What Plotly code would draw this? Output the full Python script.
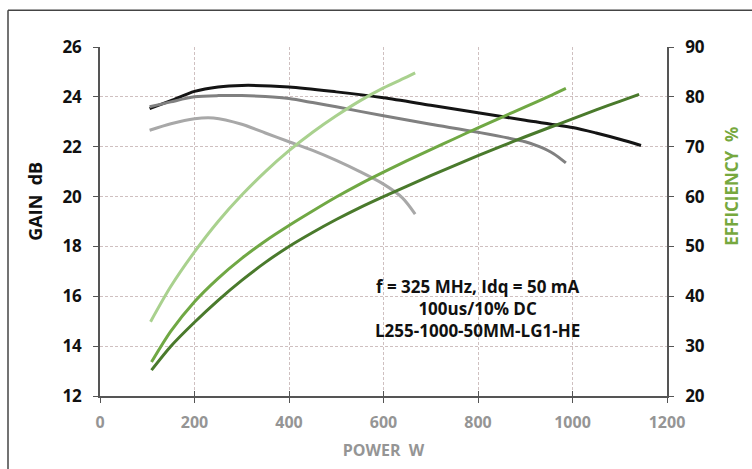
import plotly.graph_objects as go

# Output power (W) and gain (dB) for the three gain curves
gain_hi_w = [105, 150, 200, 250, 300, 400, 500, 600, 700, 800, 900, 1000, 1050, 1100, 1145]
gain_hi_db = [23.53, 23.85, 24.22, 24.4, 24.46, 24.4, 24.2, 23.96, 23.66, 23.36, 23.06,
              22.77, 22.55, 22.3, 22.05]

gain_mid_w = [105, 150, 200, 250, 300, 350, 400, 450, 500, 600, 700, 800, 900, 930, 960, 986]
gain_mid_db = [23.6, 23.8, 24.0, 24.05, 24.05, 24.01, 23.93, 23.77, 23.6, 23.24, 22.9,
               22.58, 22.2, 22.0, 21.72, 21.35]

gain_lo_w = [105, 150, 200, 240, 300, 350, 400, 450, 500, 550, 600, 640, 667]
gain_lo_db = [22.66, 22.92, 23.12, 23.15, 22.9, 22.55, 22.2, 21.85, 21.45, 21.0, 20.5,
              19.95, 19.3]

# Output power (W) and drain efficiency (%) for the three efficiency curves
eff_hi_w = [107, 150, 200, 250, 300, 350, 400, 450, 500, 550, 600, 650, 667]
eff_hi_pct = [34.9, 42.0, 48.9, 55.0, 60.3, 65.0, 69.2, 72.9, 76.2, 79.2, 81.8, 84.0, 84.8]

eff_mid_w = [109, 150, 200, 250, 300, 350, 400, 450, 500, 550, 600, 650, 700, 750, 800,
             850, 900, 950, 986]
eff_mid_pct = [26.8, 33.0, 38.9, 43.6, 47.6, 51.1, 54.2, 57.1, 59.9, 62.5, 64.9, 67.2,
               69.4, 71.6, 73.8, 75.9, 78.0, 80.1, 81.7]

eff_lo_w = [109, 150, 200, 250, 300, 350, 400, 450, 500, 550, 600, 650, 700, 750, 800,
            850, 900, 950, 1000, 1050, 1100, 1141]
eff_lo_pct = [25.2, 30.0, 34.8, 39.2, 43.2, 46.8, 50.0, 52.8, 55.4, 57.8, 60.0, 62.1,
              64.2, 66.2, 68.2, 70.1, 72.0, 73.8, 75.6, 77.4, 79.1, 80.5]

x_ticks = [0, 200, 400, 600, 800, 1000, 1200]
gain_ticks = [12, 14, 16, 18, 20, 22, 24, 26]
eff_ticks = [20, 30, 40, 50, 60, 70, 80, 90]

note_lines = ["f = 325 MHz, Idq = 50 mA", "100us/10% DC", "L255-1000-50MM-LG1-HE"]

FONT = "Open Sans"
W, H = 752, 469
L, R, T, B = 100, 85, 47, 70
PW, PH = W - L - R, H - T - B


def py_to_paper(py):
    return (H - B - py) / PH


def px_to_paper(px):
    return (px - L) / PW


fig = go.Figure()

gain_series = [
    (gain_hi_w, gain_hi_db, "#141414"),
    (gain_mid_w, gain_mid_db, "#808080"),
    (gain_lo_w, gain_lo_db, "#a8a8a8"),
]
for xs, ys, col in gain_series:
    fig.add_trace(go.Scatter(x=xs, y=ys, mode="lines", yaxis="y",
                             line=dict(color=col, width=3, shape="spline", smoothing=0.8),
                             showlegend=False, hoverinfo="skip"))

eff_series = [
    (eff_hi_w, eff_hi_pct, "#a9d18e"),
    (eff_mid_w, eff_mid_pct, "#70a844"),
    (eff_lo_w, eff_lo_pct, "#4a7a2c"),
]
for xs, ys, col in eff_series:
    fig.add_trace(go.Scatter(x=xs, y=ys, mode="lines", yaxis="y2",
                             line=dict(color=col, width=3, shape="spline", smoothing=0.8),
                             showlegend=False, hoverinfo="skip"))

# invisible trace so the overlay x-axis (inward ticks) gets drawn
fig.add_trace(go.Scatter(x=[0, 1200], y=[12, 12], xaxis="x2", yaxis="y",
                         mode="lines", line=dict(width=0), showlegend=False,
                         hoverinfo="skip"))

grid = dict(showgrid=True, gridcolor="#cfc0c0", gridwidth=1, griddash="3px,2px")
axis_line = dict(showline=True, linecolor="#555555", linewidth=1.5)

fig.update_layout(
    width=W, height=H,
    margin=dict(l=L, r=R, t=T, b=B),
    paper_bgcolor="white", plot_bgcolor="white",
    font=dict(family=FONT),
    xaxis=dict(range=[0, 1200], tickvals=x_ticks, ticks="outside", ticklen=5,
               tickcolor="#555555", zeroline=False, ticklabelstandoff=6,
               tickfont=dict(family=FONT, size=16, color="#959595", weight="bold"),
               title=dict(text="POWER  W", standoff=13,
                          font=dict(family=FONT, size=16, color="#959595", weight="bold")),
               **grid, **axis_line),
    xaxis2=dict(range=[0, 1200], tickvals=x_ticks, ticks="inside", ticklen=5,
                tickcolor="#555555", overlaying="x", side="bottom",
                showticklabels=False, showgrid=False, zeroline=False, showline=False),
    yaxis=dict(range=[12, 26], tickvals=gain_ticks, ticks="outside", ticklen=5,
               tickcolor="#555555", zeroline=False, ticklabelstandoff=8,
               tickfont=dict(family=FONT, size=17, color="#111111", weight="bold"),
               **grid, **axis_line),
    yaxis2=dict(range=[20, 90], tickvals=eff_ticks, ticks="outside", ticklen=5,
                tickcolor="#555555", overlaying="y", side="right", showgrid=False,
                zeroline=False, ticklabelstandoff=8,
                tickfont=dict(family=FONT, size=17, color="#111111", weight="bold"),
                **axis_line),
)

# axis titles placed as rotated annotations
fig.add_annotation(x=px_to_paper(35), y=py_to_paper(203), xref="paper", yref="paper",
                   xanchor="center", yanchor="middle",
                   text="GAIN  dB", textangle=-90, showarrow=False,
                   font=dict(family=FONT, size=18, color="#111111", weight="bold"))
fig.add_annotation(x=px_to_paper(732), y=py_to_paper(188), xref="paper", yref="paper",
                   xanchor="center", yanchor="middle",
                   text="EFFICIENCY  %", textangle=-90, showarrow=False,
                   font=dict(family=FONT, size=17, color="#76a83e", weight="bold"))

# test-condition note
fig.add_annotation(x=798, y=py_to_paper(311), xref="x", yref="paper",
                   xanchor="center", yanchor="middle", align="center",
                   text="<br>".join(note_lines), showarrow=False,
                   font=dict(family=FONT, size=17, color="#111111", weight="bold"))

# outer frame around the chart (runs off the right and bottom edges)
fx0 = px_to_paper(8)
fy1 = py_to_paper(10)
fig.add_shape(type="line", xref="paper", yref="paper", x0=fx0, x1=fx0, y0=-0.3, y1=fy1,
              line=dict(color="#444444", width=1.5))
fig.add_shape(type="line", xref="paper", yref="paper", x0=fx0, x1=1.3, y0=fy1, y1=fy1,
              line=dict(color="#444444", width=1.5))

fig.write_html("out.html")
